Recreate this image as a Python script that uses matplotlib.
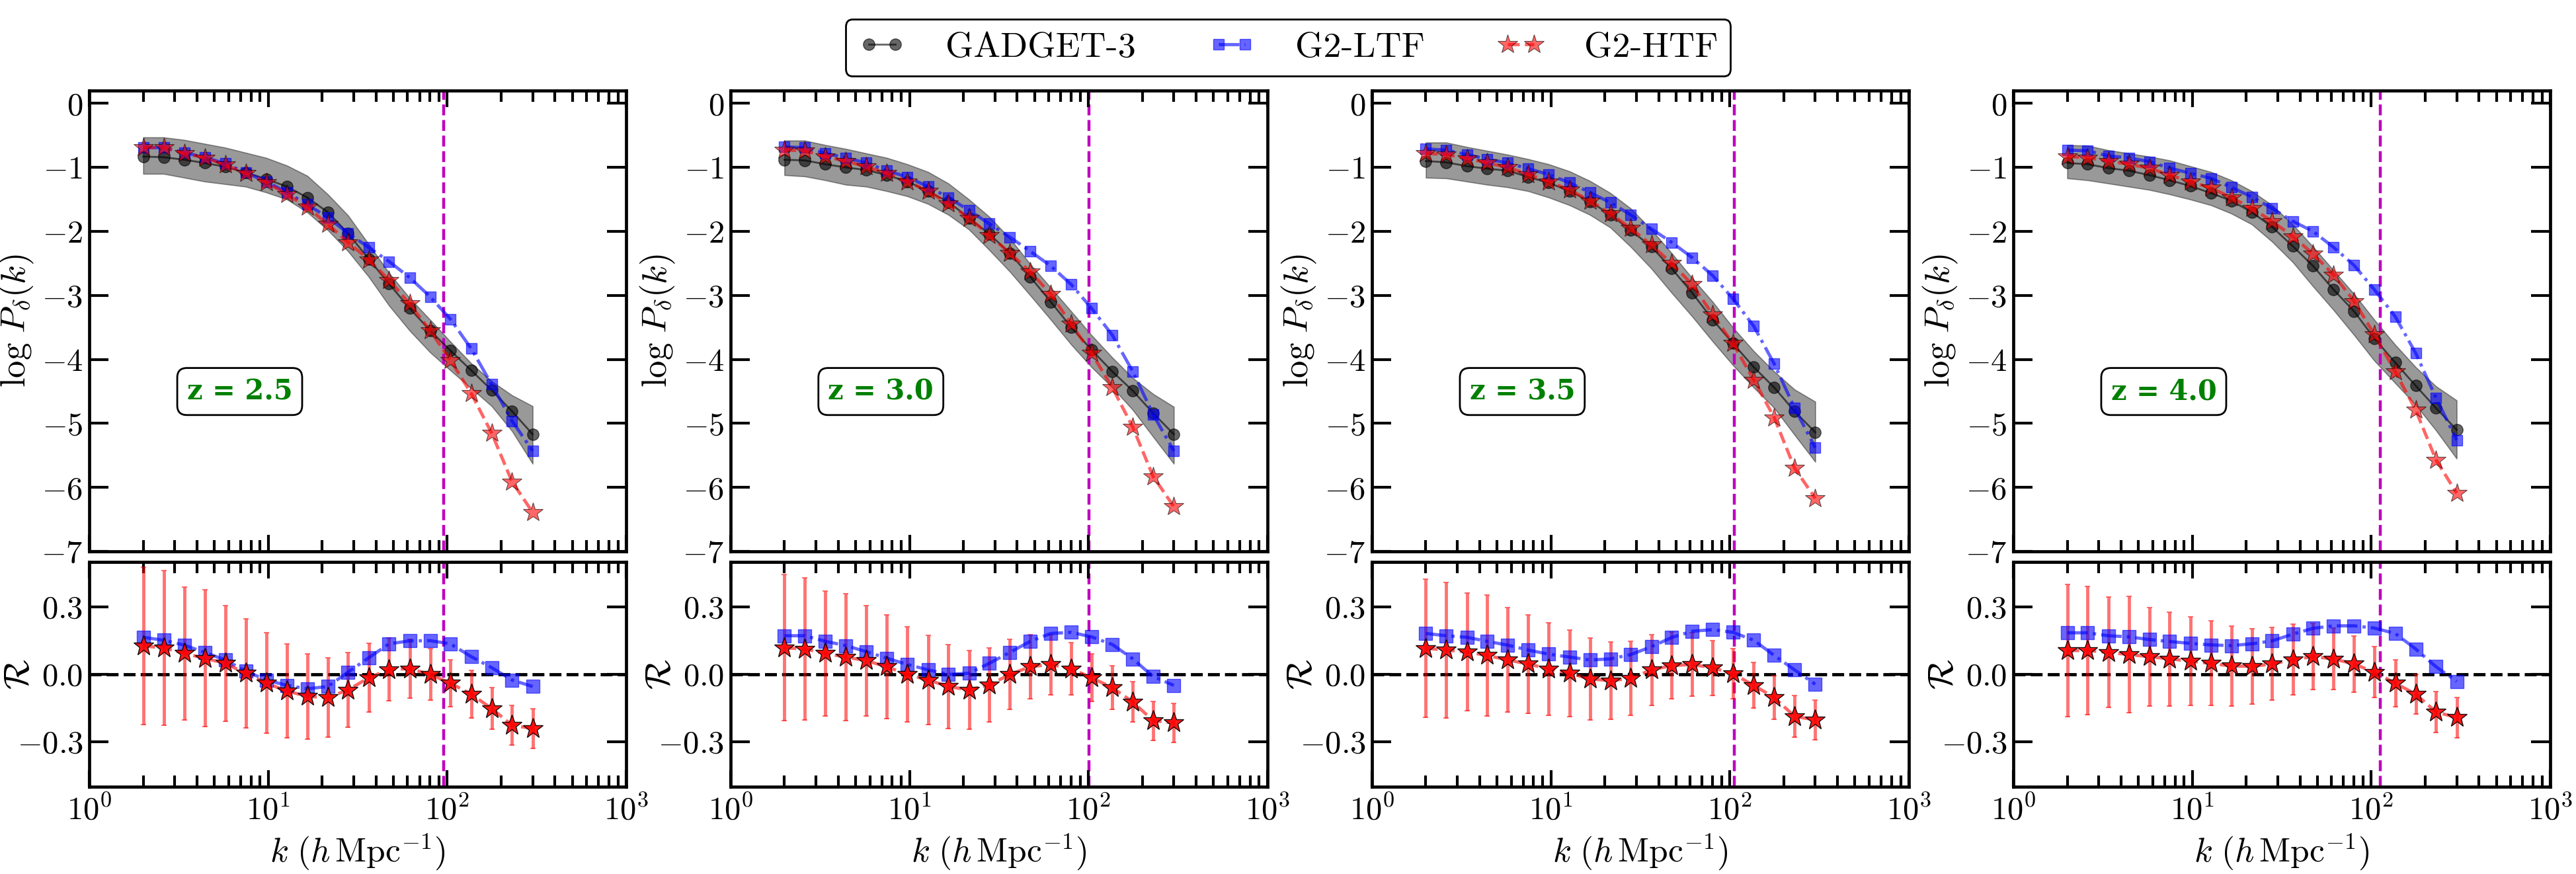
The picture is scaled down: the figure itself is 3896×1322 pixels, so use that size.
import numpy as np
import matplotlib
matplotlib.use("Agg")
import matplotlib.pyplot as plt
from matplotlib.ticker import FuncFormatter, LogLocator, LogFormatterMathtext

# wavenumbers (h/Mpc), same for all redshifts
k = [2.0, 2.6, 3.39, 4.41, 5.74, 7.47, 9.73, 12.7, 16.5, 21.5,
     27.9, 36.4, 47.3, 61.6, 80.2, 104, 136, 177, 230, 300]

redshifts = ["2.5", "3.0", "3.5", "4.0"]
k_nyq = [95.8, 100.5, 105.6, 112.7]

# log P(k) : GADGET-3 mean and scatter band
g3_25 = [-0.83, -0.84, -0.88, -0.93, -0.99, -1.08, -1.18, -1.30, -1.47, -1.70,
         -2.03, -2.43, -2.82, -3.20, -3.55, -3.86, -4.17, -4.48, -4.81, -5.17]
hi_25 = [-0.53, -0.53, -0.57, -0.63, -0.69, -0.77, -0.85, -0.97, -1.13, -1.42,
         -1.75, -2.20, -2.65, -3.04, -3.38, -3.72, -4.06, -4.34, -4.56, -4.73]
lo_25 = [-1.10, -1.10, -1.16, -1.22, -1.26, -1.30, -1.39, -1.50, -1.70, -1.98,
         -2.31, -2.71, -3.16, -3.55, -3.89, -4.17, -4.45, -4.73, -5.12, -5.63]
ltf_25 = [-0.69, -0.69, -0.77, -0.84, -0.94, -1.08, -1.22, -1.39, -1.58, -1.78,
          -2.03, -2.25, -2.47, -2.72, -3.02, -3.37, -3.83, -4.39, -4.96, -5.43]
htf_25 = [-0.69, -0.69, -0.78, -0.85, -0.96, -1.09, -1.23, -1.42, -1.62, -1.89,
          -2.17, -2.44, -2.76, -3.13, -3.55, -4.01, -4.53, -5.15, -5.91, -6.39]

g3_30 = [-0.88, -0.89, -0.95, -1.00, -1.04, -1.12, -1.22, -1.37, -1.54, -1.79,
         -2.04, -2.34, -2.71, -3.10, -3.50, -3.85, -4.19, -4.49, -4.84, -5.17]
hi_30 = [-0.58, -0.58, -0.65, -0.71, -0.78, -0.85, -0.95, -1.07, -1.25, -1.50,
         -1.77, -2.11, -2.51, -2.88, -3.25, -3.62, -3.97, -4.29, -4.54, -4.74]
lo_30 = [-1.12, -1.14, -1.20, -1.27, -1.30, -1.37, -1.45, -1.57, -1.74, -1.97,
         -2.29, -2.63, -3.00, -3.38, -3.77, -4.12, -4.44, -4.79, -5.21, -5.63]
ltf_30 = [-0.68, -0.69, -0.78, -0.85, -0.93, -1.05, -1.15, -1.30, -1.47, -1.67,
          -1.88, -2.09, -2.31, -2.54, -2.83, -3.20, -3.62, -4.19, -4.86, -5.43]
htf_30 = [-0.73, -0.74, -0.83, -0.90, -0.99, -1.09, -1.22, -1.37, -1.57, -1.79,
          -2.06, -2.34, -2.63, -2.98, -3.45, -3.90, -4.44, -5.06, -5.83, -6.30]

g3_35 = [-0.90, -0.92, -0.98, -1.02, -1.05, -1.15, -1.24, -1.37, -1.53, -1.74,
         -1.98, -2.24, -2.58, -2.96, -3.38, -3.75, -4.12, -4.44, -4.81, -5.14]
hi_35 = [-0.61, -0.61, -0.68, -0.74, -0.80, -0.87, -0.95, -1.06, -1.21, -1.40,
         -1.64, -1.97, -2.34, -2.73, -3.10, -3.50, -3.87, -4.19, -4.47, -4.66]
lo_35 = [-1.16, -1.17, -1.22, -1.27, -1.31, -1.37, -1.47, -1.59, -1.74, -1.94,
         -2.24, -2.58, -2.96, -3.33, -3.72, -4.09, -4.44, -4.76, -5.18, -5.60]
ltf_35 = [-0.71, -0.73, -0.80, -0.87, -0.93, -1.02, -1.11, -1.24, -1.39, -1.55,
          -1.74, -1.96, -2.17, -2.41, -2.69, -3.05, -3.48, -4.07, -4.76, -5.38]
htf_35 = [-0.78, -0.80, -0.86, -0.93, -1.00, -1.11, -1.22, -1.35, -1.52, -1.72,
          -1.95, -2.21, -2.50, -2.83, -3.30, -3.75, -4.32, -4.91, -5.70, -6.17]

g3_40 = [-0.93, -0.95, -1.01, -1.05, -1.12, -1.20, -1.29, -1.40, -1.52, -1.70,
         -1.93, -2.23, -2.54, -2.91, -3.25, -3.67, -4.05, -4.41, -4.76, -5.10]
hi_40 = [-0.65, -0.66, -0.73, -0.78, -0.83, -0.89, -0.98, -1.07, -1.20, -1.37,
         -1.59, -1.89, -2.24, -2.61, -2.98, -3.38, -3.77, -4.12, -4.42, -4.64]
lo_40 = [-1.17, -1.20, -1.25, -1.30, -1.35, -1.42, -1.50, -1.59, -1.72, -1.89,
         -2.16, -2.48, -2.86, -3.23, -3.62, -4.02, -4.37, -4.71, -5.11, -5.55]
ltf_40 = [-0.73, -0.74, -0.82, -0.85, -0.91, -1.01, -1.09, -1.17, -1.31, -1.46,
          -1.64, -1.84, -2.00, -2.25, -2.53, -2.91, -3.33, -3.90, -4.60, -5.26]
htf_40 = [-0.83, -0.85, -0.90, -0.95, -1.01, -1.12, -1.22, -1.32, -1.47, -1.64,
          -1.84, -2.08, -2.35, -2.68, -3.09, -3.61, -4.19, -4.79, -5.57, -6.09]

# relative difference R wrt GADGET-3, with errors on the HTF one
r_ltf_25 = [0.165, 0.152, 0.130, 0.098, 0.064, 0.015, -0.025, -0.049, -0.064, -0.054,
            0.010, 0.074, 0.136, 0.149, 0.150, 0.136, 0.079, 0.030, -0.025, -0.054]
r_htf_25 = [0.126, 0.118, 0.093, 0.072, 0.049, 0.005, -0.039, -0.074, -0.098, -0.103,
            -0.069, -0.015, 0.022, 0.025, 0.000, -0.039, -0.088, -0.152, -0.226, -0.241]
err_25 = [0.350, 0.344, 0.295, 0.305, 0.258, 0.243, 0.223, 0.208, 0.190, 0.177,
          0.166, 0.153, 0.139, 0.131, 0.114, 0.105, 0.105, 0.093, 0.088, 0.088]

r_ltf_30 = [0.172, 0.172, 0.147, 0.128, 0.101, 0.072, 0.044, 0.020, 0.000, 0.005,
            0.049, 0.098, 0.147, 0.182, 0.187, 0.167, 0.133, 0.069, -0.010, -0.049]
r_htf_30 = [0.118, 0.113, 0.093, 0.077, 0.061, 0.034, 0.000, -0.025, -0.054, -0.069,
            -0.047, 0.000, 0.034, 0.044, 0.025, -0.015, -0.059, -0.123, -0.206, -0.216]
err_30 = [0.325, 0.317, 0.277, 0.283, 0.245, 0.230, 0.213, 0.198, 0.186, 0.175,
          0.165, 0.156, 0.144, 0.134, 0.117, 0.106, 0.096, 0.090, 0.087, 0.087]

r_ltf_35 = [0.182, 0.172, 0.165, 0.147, 0.130, 0.108, 0.090, 0.077, 0.064, 0.069,
            0.088, 0.123, 0.164, 0.192, 0.199, 0.187, 0.152, 0.084, 0.020, -0.044]
r_htf_35 = [0.116, 0.108, 0.100, 0.084, 0.064, 0.046, 0.025, 0.005, -0.020, -0.028,
            -0.018, 0.020, 0.039, 0.044, 0.029, 0.003, -0.049, -0.103, -0.187, -0.202]
err_35 = [0.307, 0.301, 0.261, 0.270, 0.232, 0.219, 0.206, 0.193, 0.183, 0.173,
          0.165, 0.158, 0.149, 0.141, 0.122, 0.112, 0.101, 0.098, 0.092, 0.088]

r_ltf_40 = [0.185, 0.185, 0.172, 0.167, 0.155, 0.146, 0.138, 0.131, 0.128, 0.136,
            0.149, 0.179, 0.205, 0.216, 0.216, 0.206, 0.182, 0.113, 0.034, -0.031]
r_htf_40 = [0.106, 0.106, 0.098, 0.088, 0.079, 0.069, 0.059, 0.049, 0.037, 0.036,
            0.046, 0.066, 0.079, 0.069, 0.046, 0.010, -0.039, -0.088, -0.167, -0.192]
err_40 = [0.294, 0.285, 0.246, 0.259, 0.219, 0.209, 0.197, 0.188, 0.178, 0.168,
          0.162, 0.157, 0.147, 0.137, 0.124, 0.113, 0.105, 0.088, 0.091, 0.089]

g3_all = [g3_25, g3_30, g3_35, g3_40]
hi_all = [hi_25, hi_30, hi_35, hi_40]
lo_all = [lo_25, lo_30, lo_35, lo_40]
ltf_all = [ltf_25, ltf_30, ltf_35, ltf_40]
htf_all = [htf_25, htf_30, htf_35, htf_40]
r_ltf_all = [r_ltf_25, r_ltf_30, r_ltf_35, r_ltf_40]
r_htf_all = [r_htf_25, r_htf_30, r_htf_35, r_htf_40]
err_all = [err_25, err_30, err_35, err_40]

plt.rcParams['font.family'] = 'serif'
plt.rcParams['font.serif'] = ['cmr10', 'DejaVu Serif']
plt.rcParams['mathtext.fontset'] = 'cm'
plt.rcParams['axes.formatter.use_mathtext'] = True
plt.rcParams['axes.unicode_minus'] = False


def style_axis(ax):
    for sp in ax.spines.values():
        sp.set_linewidth(3.4)
    ax.set_xscale('log')
    ax.set_xlim(1, 1000)
    ax.xaxis.set_major_locator(LogLocator(base=10, numticks=10))
    ax.xaxis.set_minor_locator(LogLocator(base=10, subs=np.arange(2, 10), numticks=10))
    ax.tick_params(which='both', direction='in', top=True, right=True, labelsize=35)
    ax.tick_params(axis='x', which='major', length=18, width=3, pad=9)
    ax.tick_params(axis='x', which='minor', length=12, width=3)
    ax.tick_params(axis='y', which='major', length=21, width=3, pad=7)


def main():
    fig = plt.figure(figsize=(38.96, 13.22), dpi=100)
    lefts = [0.0347, 0.2836, 0.5326, 0.7816]
    width = 0.2084

    handles = None
    for i in range(4):
        ax = fig.add_axes([lefts[i], 0.3691, width, 0.5272])
        axr = fig.add_axes([lefts[i], 0.0998, width, 0.2572])

        # --- top: power spectra ---
        ax.axvline(k_nyq[i], color='m', ls='--', lw=3.2, zorder=1.5)
        ax.fill_between(k, lo_all[i], hi_all[i], color='k', alpha=0.4, lw=1.2, zorder=1)
        h1, = ax.plot(k, g3_all[i], '-o', color='k', alpha=0.6, lw=2, ms=12.5,
                      label='GADGET-3', zorder=2)
        h2, = ax.plot(k, ltf_all[i], ls='-.', marker='s', color='b', alpha=0.6,
                      lw=3.5, ms=12, label='G2-LTF', zorder=3)
        h3, = ax.plot(k, htf_all[i], ls='--', marker='*', color='r', alpha=0.6,
                      lw=3.5, ms=22, mec='k', mew=0.8, label='G2-HTF', zorder=4)
        if handles is None:
            handles = [h1, h2, h3]

        style_axis(ax)
        ax.set_ylim(-7, 0.2)
        ax.set_yticks(range(-7, 1))
        ax.yaxis.set_major_formatter(FuncFormatter(lambda v, p: r'$%d$' % round(v)))
        ax.tick_params(axis='x', labelbottom=False)
        ax.set_ylabel(r'$\log\,P_{\delta}(k)$', fontsize=38)
        ax.yaxis.set_label_coords(-0.10, 0.5)
        ax.text(0.28, 0.347, 'z = ' + redshifts[i], transform=ax.transAxes,
                ha='center', va='center', fontsize=30, color='green',
                family='DejaVu Serif', fontweight='bold',
                bbox=dict(boxstyle='round,pad=0.35', fc='white', ec='k', lw=2))

        # --- bottom: relative difference ---
        axr.axhline(0, color='k', ls='--', lw=3.5, zorder=1)
        axr.axvline(k_nyq[i], color='m', ls='--', lw=3.2, zorder=1.5)
        axr.errorbar(k, r_htf_all[i], yerr=err_all[i], fmt='none', ecolor='r',
                     alpha=0.55, elinewidth=3.5, capsize=3, capthick=1.5, zorder=2)
        axr.plot(k, r_ltf_all[i], ls='-.', marker='s', color='b', alpha=0.6,
                 lw=3.5, ms=14, zorder=3)
        axr.plot(k, r_htf_all[i], ls='--', color='r', alpha=0.6, lw=3.5, zorder=3)
        axr.plot(k, r_htf_all[i], ls='none', marker='*', mfc='r', mec='k', mew=1,
                 ms=23, alpha=0.9, zorder=4)

        style_axis(axr)
        axr.set_ylim(-0.5, 0.5)
        axr.set_yticks([-0.3, 0.0, 0.3])
        axr.yaxis.set_major_formatter(FuncFormatter(lambda v, p: r'$%.1f$' % v))
        axr.xaxis.set_major_formatter(LogFormatterMathtext())
        axr.set_ylabel(r'$\mathcal{R}$', fontsize=38)
        axr.yaxis.set_label_coords(-0.10, 0.5)
        axr.set_xlabel(r'$k\ (h\,\mathrm{Mpc}^{-1})$', fontsize=37)
        axr.xaxis.set_label_coords(0.5, -0.2)

    leg = fig.legend(handles, ['GADGET-3', 'G2-LTF', 'G2-HTF'], loc='center',
                     bbox_to_anchor=(0.5, 0.9455), ncol=3, fontsize=39,
                     numpoints=2, handlelength=1.35, handletextpad=1.1,
                     columnspacing=2.0, fancybox=True, framealpha=1,
                     borderpad=0.35)
    leg.get_frame().set_edgecolor('k')
    leg.get_frame().set_linewidth(2)

    fig.savefig("out.png", dpi=100)


if __name__ == "__main__":
    main()
